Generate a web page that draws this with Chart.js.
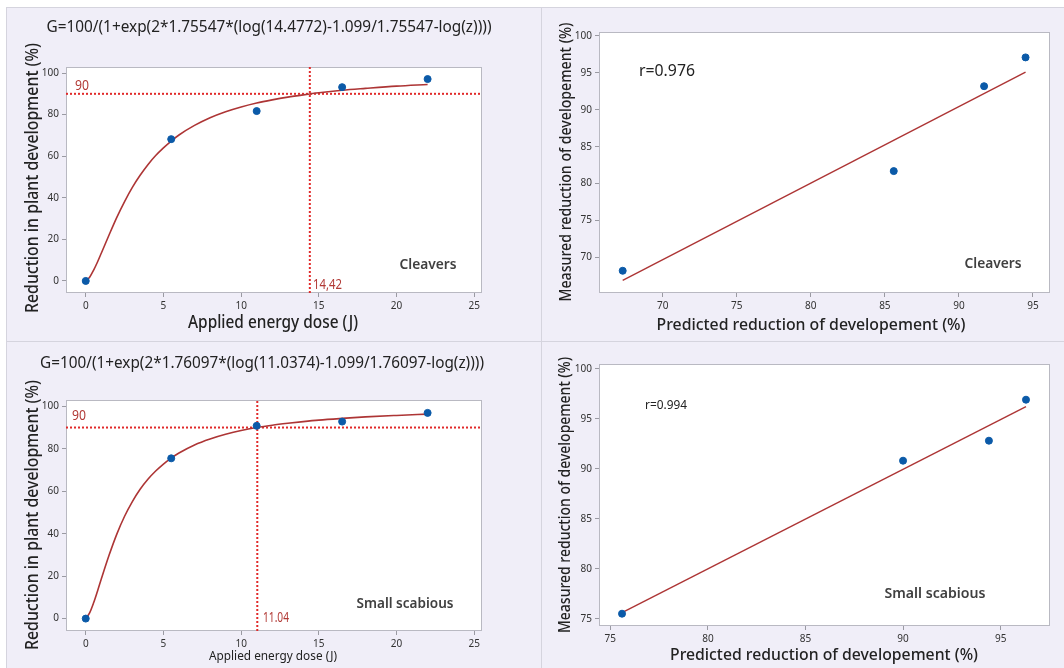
<!DOCTYPE html>
<html>
<head>
<meta charset="utf-8">
<script src="https://cdn.jsdelivr.net/npm/chart.js@4.4.1/dist/chart.umd.min.js"></script>
<style>
  body { margin: 0; background: #fff; width: 1064px; height: 668px; overflow: hidden; position: relative; }
  #frame { position: absolute; left: 6px; top: 7px; width: 1058px; height: 661px; background: #d5d4de; }
  canvas { position: absolute; background: #f0eef8; }
  #c1 { left: 7px; top: 8px; }
  #c2 { left: 542px; top: 8px; }
  #c3 { left: 7px; top: 342px; }
  #c4 { left: 542px; top: 342px; }
</style>
</head>
<body>
<div id="frame"></div>
<canvas id="c1" width="534" height="333"></canvas>
<canvas id="c2" width="522" height="333"></canvas>
<canvas id="c3" width="534" height="326"></canvas>
<canvas id="c4" width="522" height="326"></canvas>
<script>
// measured points (dose in J, reduction in %)
const doseX = [0, 5.5, 11, 16.5, 22];
const cleaversMeasured = [0, 68.2, 81.7, 93.2, 97.1];
const scabiousMeasured = [0, 75.5, 90.8, 92.8, 96.9];

// fitted dose-response curves
const curveX = [0, 0.25, 0.5, 0.75, 1, 1.5, 2, 2.5, 3, 3.5, 4, 4.5, 5, 5.5, 6, 7, 8, 9, 10, 11, 12, 13, 14, 15, 16.5, 18, 20, 22];
const cleaversCurve = [0, 1.8, 5.1, 9.0, 13.3, 22.1, 30.6, 38.2, 45.0, 50.8, 55.9, 60.3, 64.0, 67.3, 70.2, 74.8, 78.5, 81.4, 83.7, 85.6, 87.1, 88.4, 89.5, 90.5, 91.7, 92.6, 93.7, 94.5];
const scabiousCurve = [0, 2.7, 7.3, 12.8, 18.6, 29.8, 39.8, 48.2, 55.1, 60.9, 65.6, 69.5, 72.8, 75.6, 78.0, 81.8, 84.6, 86.8, 88.6, 90.0, 91.1, 92.0, 92.8, 93.5, 94.3, 95.0, 95.7, 96.3];

// 90% reduction doses
const refLevel = 90;
const cleaversED90 = 14.42;
const scabiousED90 = 11.04;

// predicted vs measured
const cleaversPredicted = [67.3, 85.6, 91.7, 94.5];
const cleaversObserved = [68.2, 81.7, 93.2, 97.1];
const cleaversFitX = [67.3, 94.5];
const cleaversFitY = [66.9, 95.1];
const scabiousPredicted = [75.6, 90.0, 94.4, 96.3];
const scabiousObserved = [75.5, 90.8, 92.8, 96.9];
const scabiousFitX = [75.6, 96.3];
const scabiousFitY = [75.6, 96.2];

// tick labels
const doseTicks = [0, 5, 10, 15, 20, 25];
const reductionTicks = [0, 20, 40, 60, 80, 100];
const cleaversPredTicks = [70, 75, 80, 85, 90, 95];
const cleaversMeasTicks = [70, 75, 80, 85, 90, 95, 100];
const scabiousPredTicks = [75, 80, 85, 90, 95];
const scabiousMeasTicks = [75, 80, 85, 90, 95, 100];

const FONT = "'Segoe UI', 'Noto Sans', 'Open Sans', sans-serif";
const BLUE = "#0b5aa8";
const CURVE = "#ad3535";
const REF = "#e12a2a";
const NOTE = "#b23a36";

function pts(xs, ys) {
    return xs.map((x, i) => ({ x: x, y: ys[i] }));
}

// white plot area + grey frame + free text
const panelPlugin = {
    id: "panel",
    beforeDatasetsDraw(chart) {
        const a = chart.chartArea;
        const ctx = chart.ctx;
        ctx.save();
        ctx.fillStyle = "#fff";
        ctx.fillRect(a.left, a.top, a.right - a.left, a.bottom - a.top);
        ctx.strokeStyle = "#b9b9c2";
        ctx.lineWidth = 1;
        ctx.strokeRect(a.left + 0.5, a.top + 0.5, a.right - a.left - 1, a.bottom - a.top - 1);
        ctx.restore();
    },
    afterDraw(chart, args, opts) {
        const ctx = chart.ctx;
        (opts.texts || []).forEach((t) => {
            ctx.save();
            ctx.font = t.font;
            ctx.fillStyle = t.color || "#222";
            ctx.textAlign = t.align || "center";
            ctx.textBaseline = "middle";
            ctx.translate(t.x, t.y);
            if (t.rotate) ctx.rotate(t.rotate);
            // squeeze to the width the text has in the picture
            if (t.w) ctx.scale(t.w / ctx.measureText(t.text).width, 1);
            ctx.fillText(t.text, 0, 0);
            ctx.restore();
        });
    },
};

function axis(min, max, ticks, size, vertical) {
    return {
        type: "linear",
        min: min,
        max: max,
        afterBuildTicks: (s) => { s.ticks = ticks.map((v) => ({ value: v })); },
        afterFit: (s) => { if (vertical) s.width = size; else s.height = size; },
        grid: { display: true, drawOnChartArea: false, drawTicks: true, tickLength: 4, color: "#9a9aa2" },
        border: { display: false },
        ticks: { font: { family: FONT, size: 10 }, color: "#333", padding: 3, maxRotation: 0 },
    };
}

function makeChart(id, datasets, sc, texts) {
    return new Chart(document.getElementById(id), {
        type: "scatter",
        data: { datasets: datasets },
        options: {
            responsive: false,
            animation: false,
            devicePixelRatio: 1,
            layout: { padding: sc.pad },
            plugins: { legend: { display: false }, tooltip: { enabled: false }, panel: { texts: texts } },
            scales: {
                x: axis(sc.xMin, sc.xMax, sc.xTicks, sc.xSize, false),
                y: axis(sc.yMin, sc.yMax, sc.yTicks, sc.ySize, true),
            },
        },
        plugins: [panelPlugin],
    });
}

function doseDatasets(measured, curve, ed90, xMin, xMax, yMin, yMax) {
    return [
        { data: pts(doseX, measured), backgroundColor: BLUE, borderColor: BLUE, pointRadius: 3.5, showLine: false },
        { data: pts(curveX, curve), showLine: true, borderColor: CURVE, borderWidth: 1.6, pointRadius: 0, cubicInterpolationMode: "monotone" },
        { data: [{ x: xMin, y: refLevel }, { x: xMax, y: refLevel }], showLine: true, borderColor: REF, borderWidth: 2, borderDash: [2, 2], pointRadius: 0 },
        { data: [{ x: ed90, y: yMin }, { x: ed90, y: yMax }], showLine: true, borderColor: REF, borderWidth: 2, borderDash: [2, 2], pointRadius: 0 },
    ];
}

function fitDatasets(pred, obs, fx, fy) {
    return [
        { data: pts(pred, obs), backgroundColor: BLUE, borderColor: BLUE, pointRadius: 3.5, showLine: false },
        { data: pts(fx, fy), showLine: true, borderColor: CURVE, borderWidth: 1.4, pointRadius: 0 },
    ];
}

const rot = -Math.PI / 2;

// top left: cleavers dose-response
makeChart("c1",
    doseDatasets(cleaversMeasured, cleaversCurve, cleaversED90, -1.27, 25.5, -5.8, 102.9),
    { pad: { left: 0, top: 59, right: 59, bottom: 0 }, xMin: -1.27, xMax: 25.5, yMin: -5.8, yMax: 102.9,
      xTicks: doseTicks, yTicks: reductionTicks, xSize: 48, ySize: 59 },
    [
        { text: "G=100/(1+exp(2*1.75547*(log(14.4772)-1.099/1.75547-log(z))))", x: 262, y: 19, font: "17px " + FONT, w: 445 },
        { text: "Reduction in plant development (%)", x: 26, y: 170, font: "500 17.5px " + FONT, rotate: rot, w: 270 },
        { text: "Applied energy dose (J)", x: 266, y: 315, font: "500 17.5px " + FONT, w: 170 },
        { text: "90", x: 68, y: 78, font: "14px " + FONT, color: NOTE, align: "left", w: 14 },
        { text: "14,42", x: 306, y: 277, font: "14px " + FONT, color: NOTE, align: "left", w: 29 },
        { text: "Cleavers", x: 421, y: 257, font: "600 15px " + FONT, color: "#404040", w: 57 },
    ]);

// top right: cleavers predicted vs measured
makeChart("c2",
    fitDatasets(cleaversPredicted, cleaversObserved, cleaversFitX, cleaversFitY),
    { pad: { left: 0, top: 24, right: 14, bottom: 0 }, xMin: 65.7, xMax: 96.15, yMin: 65.19, yMax: 100.54,
      xTicks: cleaversPredTicks, yTicks: cleaversMeasTicks, xSize: 48, ySize: 57 },
    [
        { text: "Measured reduction of developement (%)", x: 25, y: 154, font: "500 15.5px " + FONT, rotate: rot, w: 279 },
        { text: "Predicted reduction of developement (%)", x: 269, y: 317, font: "500 16.5px " + FONT, w: 309 },
        { text: "r=0.976", x: 97, y: 64, font: "15.5px " + FONT, align: "left", w: 56 },
        { text: "Cleavers", x: 451, y: 256, font: "600 15px " + FONT, color: "#404040", w: 57 },
    ]);

// bottom left: small scabious dose-response
makeChart("c3",
    doseDatasets(scabiousMeasured, scabiousCurve, scabiousED90, -1.27, 25.5, -5.85, 102.97),
    { pad: { left: 0, top: 58, right: 59, bottom: 0 }, xMin: -1.27, xMax: 25.5, yMin: -5.85, yMax: 102.97,
      xTicks: doseTicks, yTicks: reductionTicks, xSize: 37, ySize: 59 },
    [
        { text: "G=100/(1+exp(2*1.76097*(log(11.0374)-1.099/1.76097-log(z))))", x: 255, y: 21, font: "17px " + FONT, w: 444 },
        { text: "Reduction in plant development (%)", x: 26, y: 173, font: "500 17.5px " + FONT, rotate: rot, w: 270 },
        { text: "Applied energy dose (J)", x: 266, y: 314, font: "13px " + FONT, w: 128 },
        { text: "90", x: 65, y: 74, font: "15px " + FONT, color: NOTE, align: "left", w: 14 },
        { text: "11.04", x: 256, y: 276, font: "14px " + FONT, color: NOTE, align: "left", w: 26 },
        { text: "Small scabious", x: 398, y: 262, font: "600 15px " + FONT, color: "#404040", w: 97 },
    ]);

// bottom right: small scabious predicted vs measured
makeChart("c4",
    fitDatasets(scabiousPredicted, scabiousObserved, scabiousFitX, scabiousFitY),
    { pad: { left: 0, top: 22, right: 14, bottom: 0 }, xMin: 74.42, xMax: 97.53, yMin: 74.27, yMax: 100.47,
      xTicks: scabiousPredTicks, yTicks: scabiousMeasTicks, xSize: 42, ySize: 57 },
    [
        { text: "Measured reduction of developement (%)", x: 24, y: 153, font: "500 15.5px " + FONT, rotate: rot, w: 276 },
        { text: "Predicted reduction of developement (%)", x: 282, y: 313, font: "500 16.5px " + FONT, w: 308 },
        { text: "r=0.994", x: 103, y: 63, font: "13px " + FONT, align: "left", w: 42 },
        { text: "Small scabious", x: 393, y: 252, font: "600 15px " + FONT, color: "#404040", w: 101 },
    ]);
</script>
</body>
</html>
